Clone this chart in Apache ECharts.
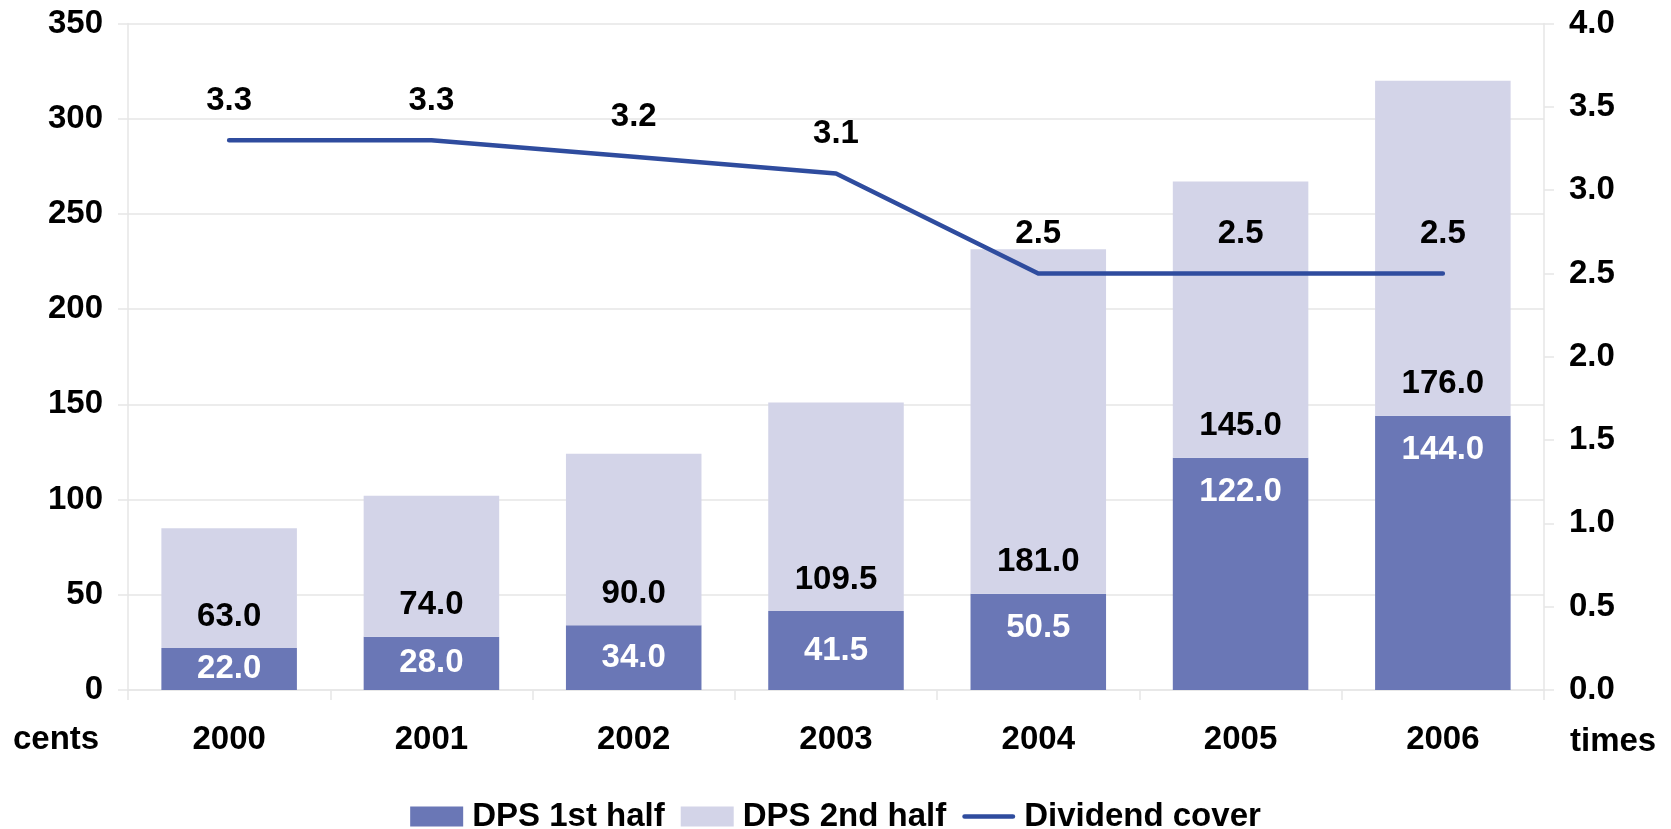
<!DOCTYPE html>
<html>
<head>
<meta charset="utf-8">
<script src="https://cdn.jsdelivr.net/npm/echarts@6/dist/echarts.min.js"></script>
<style>
html,body{margin:0;padding:0;background:#fff;}
#chart{width:1671px;height:829px;}
</style>
</head>
<body>
<div id="chart"></div>
<script>
const categories = ['2000','2001','2002','2003','2004','2005','2006'];
const dpsFirstHalf = [22.0, 28.0, 34.0, 41.5, 50.5, 122.0, 144.0];
const dpsSecondHalf = [63.0, 74.0, 90.0, 109.5, 181.0, 145.0, 176.0];
const dividendCover = [3.3, 3.3, 3.2, 3.1, 2.5, 2.5, 2.5];
const leftTicks = {min: 0, max: 350, interval: 50};
const rightTicks = {min: 0, max: 4, interval: 0.5};

const FONT = "'Liberation Sans', Arial, sans-serif";
const FS = 33;
const dark = '#6a77b6';
const light = '#d3d4e8';
const lineColor = '#2f4c9e';
const gridColor = '#e6e6e6';

const chart = echarts.init(document.getElementById('chart'), null, {renderer: 'canvas'});

const firstData = dpsFirstHalf.map(v => ({
  value: v,
  label: {position: v < 45 ? 'inside' : 'insideTop'}
}));

chart.setOption({
  animation: false,
  backgroundColor: '#fff',
  textStyle: {fontFamily: FONT},
  grid: {left: 128, right: 127, top: 23.5, bottom: 139, containLabel: false},
  legend: {
    top: 795,
    left: 'center',
    itemWidth: 53,
    itemHeight: 20,
    itemGap: 16,
    symbolKeepAspect: true,
    textStyle: {fontFamily: FONT, fontSize: FS, fontWeight: 'bold', color: '#000', padding: [0,0,0,4]},
    data: [
      {name: 'DPS 1st half', icon: 'rect'},
      {name: 'DPS 2nd half', icon: 'rect'},
      {name: 'Dividend cover', icon: 'path://M2.5,0 L53.5,0 A2.5,2.5 0 0 1 53.5,5 L2.5,5 A2.5,2.5 0 0 1 2.5,0 Z'}
    ]
  },
  xAxis: {
    type: 'category',
    data: categories,
    axisLine: {show: true, lineStyle: {color: gridColor, width: 1.5}},
    axisTick: {show: true, length: 10, lineStyle: {color: gridColor, width: 1.5}},
    axisLabel: {margin: 33, fontFamily: FONT, fontSize: FS, fontWeight: 'bold', color: '#000'}
  },
  yAxis: [
    {
      type: 'value',
      min: leftTicks.min, max: leftTicks.max, interval: leftTicks.interval,
      axisLine: {show: true, lineStyle: {color: gridColor, width: 1.5}},
      axisTick: {show: true, length: 10, lineStyle: {color: gridColor, width: 1.5}},
      splitLine: {show: true, lineStyle: {color: gridColor, width: 1.5}},
      axisLabel: {margin: 25, fontFamily: FONT, fontSize: FS, fontWeight: 'bold', color: '#000'}
    },
    {
      type: 'value',
      position: 'right',
      min: rightTicks.min, max: rightTicks.max, interval: rightTicks.interval,
      axisLine: {show: true, lineStyle: {color: gridColor, width: 1.5}},
      axisTick: {show: true, length: 10, lineStyle: {color: gridColor, width: 1.5}},
      splitLine: {show: false},
      axisLabel: {margin: 25, fontFamily: FONT, fontSize: FS, fontWeight: 'bold', color: '#000',
        formatter: v => v.toFixed(1)}
    }
  ],
  series: [
    {
      name: 'DPS 1st half',
      type: 'bar',
      stack: 'dps',
      barWidth: '67%',
      itemStyle: {color: dark},
      data: firstData,
      label: {
        show: true, distance: 18,
        fontFamily: FONT, fontSize: FS, fontWeight: 'bold', color: '#fff',
        formatter: p => Number(p.value).toFixed(1)
      }
    },
    {
      name: 'DPS 2nd half',
      type: 'bar',
      stack: 'dps',
      barWidth: '67%',
      itemStyle: {color: light},
      data: dpsSecondHalf,
      label: {
        show: true, position: 'insideBottom', distance: 15,
        fontFamily: FONT, fontSize: FS, fontWeight: 'bold', color: '#000',
        formatter: p => Number(p.value).toFixed(1)
      }
    },
    {
      name: 'Dividend cover',
      type: 'line',
      yAxisIndex: 1,
      symbol: 'circle',
      symbolSize: 0.01,
      showSymbol: true,
      z: 10,
      lineStyle: {color: lineColor, width: 4.5, cap: 'round', join: 'round'},
      itemStyle: {color: lineColor},
      data: dividendCover,
      label: {
        show: true, position: 'top', distance: 23,
        fontFamily: FONT, fontSize: FS, fontWeight: 'bold', color: '#000',
        formatter: p => Number(p.value).toFixed(1)
      }
    }
  ],
  graphic: [
    {type: 'text', left: 13, top: 723, style: {text: 'cents', font: 'bold 33px ' + FONT, fill: '#000'}},
    {type: 'text', left: 1570, top: 725, style: {text: 'times', font: 'bold 33px ' + FONT, fill: '#000'}}
  ]
});
</script>
</body>
</html>
